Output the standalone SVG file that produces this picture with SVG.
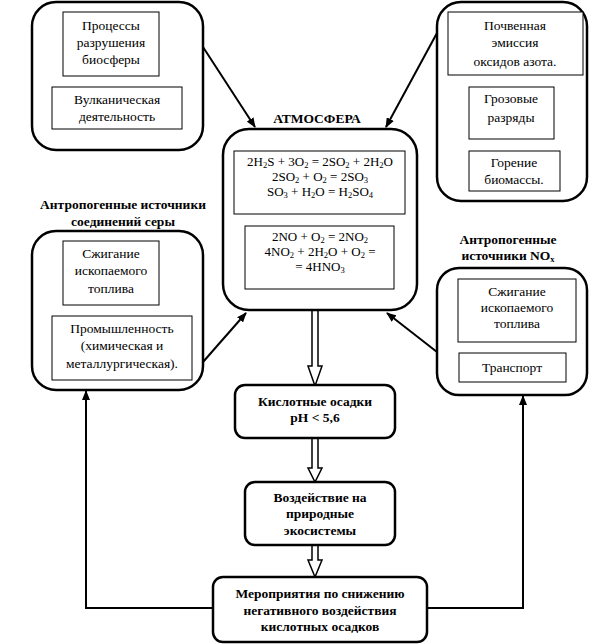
<svg xmlns="http://www.w3.org/2000/svg" width="589" height="644" viewBox="0 0 589 644" font-family="'Liberation Serif', 'DejaVu Serif', serif">
<defs>
<style>
.ob{fill:#fff;stroke:#000;stroke-width:2.5}
.ib{fill:#fff;stroke:#000;stroke-width:1}
.t{font-family:'Liberation Serif','DejaVu Serif',serif;font-size:13.5px;text-anchor:middle;fill:#000}
.b{font-family:'Liberation Serif','DejaVu Serif',serif;font-size:13.5px;font-weight:bold;text-anchor:middle;fill:#000}
.e{font-family:'Liberation Serif','DejaVu Serif',serif;font-size:13px;text-anchor:middle;fill:#000}
.s{font-size:8.5px;baseline-shift:-2px}
.c{fill:none;stroke:#000;stroke-width:2}
.h{fill:#fff;stroke:#000;stroke-width:1.5}
</style>
<marker id="ah" markerWidth="10" markerHeight="8" refX="9" refY="4" orient="auto" markerUnits="userSpaceOnUse">
<path d="M0,0 L10,4 L0,8 z" fill="#000"/>
</marker>
</defs>

<g id="connectors">
<line class="c" x1="203" y1="47" x2="255" y2="127" marker-end="url(#ah)"/>
<line class="c" x1="437" y1="33" x2="386" y2="127" marker-end="url(#ah)"/>
<line class="c" x1="203" y1="362" x2="246" y2="313" marker-end="url(#ah)"/>
<line class="c" x1="437" y1="352" x2="387" y2="313" marker-end="url(#ah)"/>
<polyline class="c" points="213,608 86,608 86,391" marker-end="url(#ah)"/>
<polyline class="c" points="427,608 523,608 523,396" marker-end="url(#ah)"/>
<polygon class="h" points="312,310 318,310 318,366 322,366 315,386 308,366 312,366"/>
<polygon class="h" points="312,438 318,438 318,468 322,468 315,482 308,468 312,468"/>
<polygon class="h" points="312,545 318,545 318,560 322,560 315,577 308,560 312,560"/>
</g>

<g id="natural-s">
<rect class="ob" x="32" y="2" width="171" height="148" rx="24"/>
<rect class="ib" x="63" y="12" width="96" height="64"/>
<text class="t" x="111" y="30">Процессы</text>
<text class="t" x="111" y="47">разрушения</text>
<text class="t" x="111" y="64">биосферы</text>
<rect class="ib" x="52" y="87" width="130" height="42"/>
<text class="t" x="117" y="104">Вулканическая</text>
<text class="t" x="117" y="121">деятельность</text>
</g>

<g id="natural-n">
<rect class="ob" x="437" y="2" width="150" height="199" rx="24"/>
<rect class="ib" x="448" y="12" width="135" height="63"/>
<text class="t" x="515" y="30">Почвенная</text>
<text class="t" x="515" y="47">эмиссия</text>
<text class="t" x="515" y="66">оксидов азота.</text>
<rect class="ib" x="469" y="87" width="85" height="52"/>
<text class="t" x="511" y="103">Грозовые</text>
<text class="t" x="511" y="122">разряды</text>
<rect class="ib" x="469" y="151" width="91" height="40"/>
<text class="t" x="514" y="167">Горение</text>
<text class="t" x="514" y="184">биомассы.</text>
</g>

<g id="atmosphere">
<text class="b" x="317" y="123">АТМОСФЕРА</text>
<rect class="ob" x="223" y="129" width="194" height="181" rx="26"/>
<rect class="ib" x="234" y="151" width="171" height="63"/>
<text class="e" x="320" y="166">2H<tspan class="s">2</tspan>S + 3O<tspan class="s">2</tspan> = 2SO<tspan class="s">2</tspan> + 2H<tspan class="s">2</tspan>O</text>
<text class="e" x="320" y="181">2SO<tspan class="s">2</tspan> + O<tspan class="s">2</tspan> = 2SO<tspan class="s">3</tspan></text>
<text class="e" x="320" y="196">SO<tspan class="s">3</tspan> + H<tspan class="s">2</tspan>O = H<tspan class="s">2</tspan>SO<tspan class="s">4</tspan></text>
<rect class="ib" x="245" y="226" width="149" height="63"/>
<text class="e" x="320" y="241">2NO + O<tspan class="s">2</tspan> = 2NO<tspan class="s">2</tspan></text>
<text class="e" x="320" y="256">4NO<tspan class="s">2</tspan> + 2H<tspan class="s">2</tspan>O + O<tspan class="s">2</tspan> =</text>
<text class="e" x="320" y="271">= 4HNO<tspan class="s">3</tspan></text>
</g>

<g id="anthro-s">
<text class="b" x="123" y="209">Антропогенные источники</text>
<text class="b" x="123" y="226">соединений серы</text>
<rect class="ob" x="32" y="231" width="171" height="159" rx="24"/>
<rect class="ib" x="63" y="241" width="96" height="64"/>
<text class="t" x="111" y="258">Сжигание</text>
<text class="t" x="111" y="275">ископаемого</text>
<text class="t" x="111" y="293">топлива</text>
<rect class="ib" x="52" y="316" width="140" height="64"/>
<text class="t" x="122" y="333">Промышленность</text>
<text class="t" x="122" y="350">(химическая и</text>
<text class="t" x="122" y="368">металлургическая).</text>
</g>

<g id="anthro-n">
<text class="b" x="508" y="244">Антропогенные</text>
<text class="b" x="508" y="260">источники NO<tspan class="s">x</tspan></text>
<rect class="ob" x="437" y="268" width="150" height="127" rx="22"/>
<rect class="ib" x="458" y="279" width="118" height="63"/>
<text class="t" x="517" y="296">Сжигание</text>
<text class="t" x="517" y="312">ископаемого</text>
<text class="t" x="517" y="328">топлива</text>
<rect class="ib" x="459" y="353" width="107" height="29"/>
<text class="t" x="512" y="372">Транспорт</text>
</g>

<g id="acid-rain">
<rect class="ob" x="235" y="385" width="160" height="53" rx="10"/>
<text class="b" x="315" y="406">Кислотные осадки</text>
<text class="b" x="315" y="422">pH &lt; 5,6</text>
</g>

<g id="impact">
<rect class="ob" x="245" y="482" width="150" height="63" rx="10"/>
<text class="b" x="320" y="502">Воздействие на</text>
<text class="b" x="320" y="518">природные</text>
<text class="b" x="320" y="535">экосистемы</text>
</g>

<g id="measures">
<rect class="ob" x="213" y="577" width="214" height="65" rx="10"/>
<text class="b" x="320" y="598">Мероприятия по снижению</text>
<text class="b" x="320" y="615">негативного воздействия</text>
<text class="b" x="320" y="631">кислотных осадков</text>
</g>
</svg>
